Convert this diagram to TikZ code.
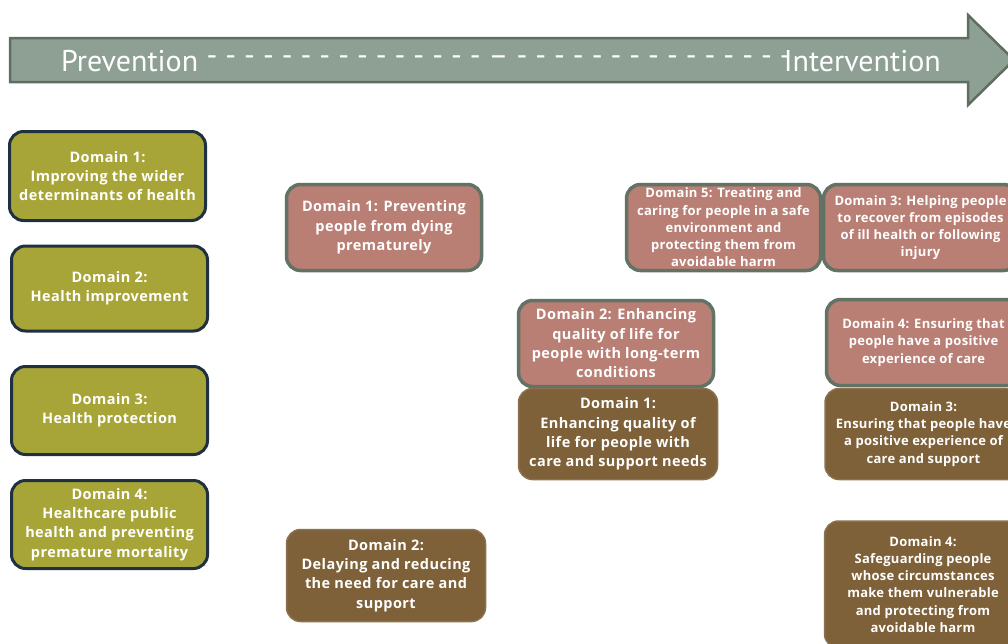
\documentclass[tikz,border=0pt]{standalone}
\usepackage{fontspec}
\setmainfont{PT Sans}
\newfontfamily\boxfont[LetterSpace=3]{Open Sans}
\newfontfamily\smallboxfont[LetterSpace=2]{Open Sans}
\definecolor{olivef}{HTML}{A8A538}
\definecolor{navyline}{HTML}{1F3040}
\definecolor{pinkf}{HTML}{B97F74}
\definecolor{pinkline}{HTML}{627366}
\definecolor{brownf}{HTML}{7E6139}
\definecolor{brownline}{HTML}{8B7150}
\definecolor{arrowf}{HTML}{8E9F93}
\definecolor{arrowline}{HTML}{5E6E60}
\begin{document}
\begin{tikzpicture}[x=1pt,y=-1pt,
  box/.style={rounded corners=14pt, align=center, text=white, inner sep=2pt,
    font=\boxfont\bfseries\fontsize{14.5}{19.3}\selectfont},
  smalltext/.style={font=\smallboxfont\bfseries\fontsize{13}{17.2}\selectfont},
  olivebox/.style={box, fill=olivef, draw=navyline, line width=3pt},
  pinkbox/.style={box, fill=pinkf, draw=pinkline, line width=3.5pt},
  brownbox/.style={box, fill=brownf, draw=brownline, line width=1.5pt},
  arrowtext/.style={text=white, inner sep=0pt, font=\fontsize{30}{32}\selectfont}]
\useasboundingbox (0,0) rectangle (1008,643);
\clip (0,0) rectangle (1008,643);
% big arrow
\draw[fill=arrowf, draw=arrowline, line width=2.5pt, line join=miter]
  (10,38) -- (968,38) -- (968,15) -- (1014,60) -- (968,105) -- (968,82) -- (10,82) -- cycle;
\node[arrowtext, anchor=west] (prev) at (61,61) {Prevention};
\node[arrowtext, anchor=east] (inter) at (941,61) {Intervention};
\node[arrowtext, anchor=west] (dashes) at ([xshift=8pt]prev.east) {- - - - - - - - - - - - - - - -- - - - - - - - - - - - - - - -};
% olive (public health) boxes
\node[olivebox, minimum width=196pt, minimum height=89pt] (o1) at (107.5,176) {Domain 1:\\Improving the wider\\determinants of health};
\node[olivebox, minimum width=196pt, minimum height=85pt] (o2) at (109.5,288.5) {Domain 2:\\Health improvement};
\node[olivebox, minimum width=196pt, minimum height=88pt] (o3) at (109.5,410.5) {Domain 3:\\Health protection};
\node[olivebox, minimum width=196pt, minimum height=88pt] (o4) at (109.5,524.5) {Domain 4:\\Healthcare public\\health and preventing\\premature mortality};
% pink (NHS) boxes
\node[pinkbox, minimum width=195pt, minimum height=86pt] (p1) at (384,227.5) {Domain 1: Preventing\\people from dying\\prematurely};
\node[pinkbox, smalltext, minimum width=194pt, minimum height=86pt] (p5) at (723.5,227.5) {Domain 5: Treating and\\caring for people in a safe\\environment and\\protecting them from\\avoidable harm};
\node[pinkbox, smalltext, minimum width=194pt, minimum height=86pt] (p3) at (920.5,227.5) {Domain 3: Helping people\\to recover from episodes\\of ill health or following\\injury};
\node[pinkbox, minimum width=195pt, minimum height=86pt] (p2) at (616,343.5) {Domain 2: Enhancing\\quality of life for\\people with long-term\\conditions};
\node[pinkbox, smalltext, minimum width=194pt, minimum height=86pt] (p4) at (923.5,342.5) {Domain 4: Ensuring that\\people have a positive\\experience of care};
% brown (adult social care) boxes
\node[brownbox, minimum width=199pt, minimum height=91pt] (b1) at (618,434) {Domain 1:\\Enhancing quality of\\life for people with\\care and support needs};
\node[brownbox, smalltext, minimum width=197pt, minimum height=91pt] (b3) at (923.5,434) {Domain 3:\\Ensuring that people have\\a positive experience of\\care and support};
\node[brownbox, minimum width=199pt, minimum height=92pt] (b2) at (386,575.5) {Domain 2:\\Delaying and reducing\\the need for care and\\support};
\node[brownbox, smalltext, minimum width=197pt, minimum height=127pt] (b4) at (923,584.5) {Domain 4:\\Safeguarding people\\whose circumstances\\make them vulnerable\\and protecting from\\avoidable harm};
\end{tikzpicture}
\end{document}
